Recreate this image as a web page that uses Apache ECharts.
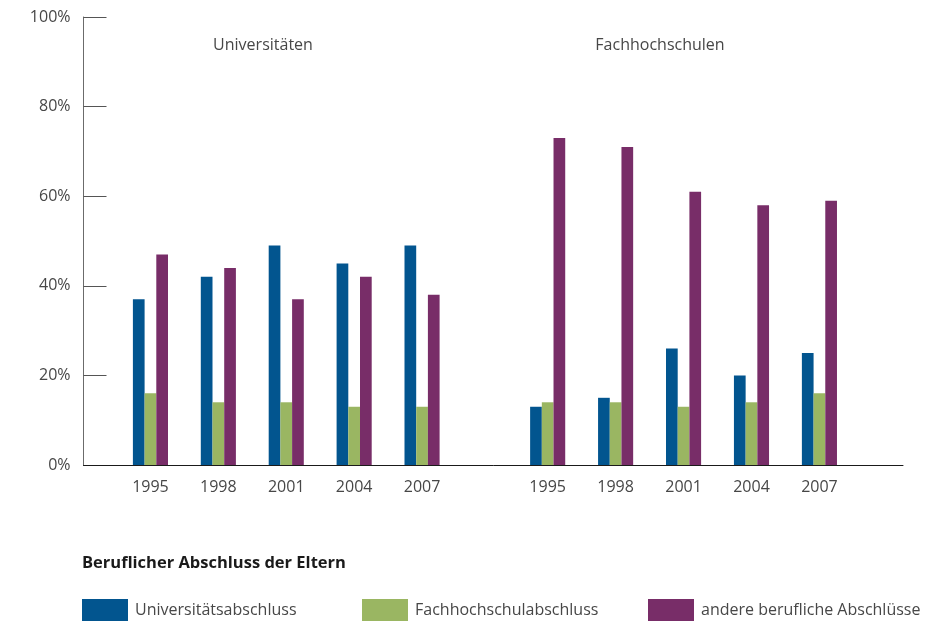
<!DOCTYPE html>
<html>
<head>
<meta charset="utf-8">
<script src="https://cdn.jsdelivr.net/npm/echarts@6/dist/echarts.min.js"></script>
<style>
  html, body { margin: 0; padding: 0; background: #fff; }
  #chart { width: 935px; height: 624px; }
</style>
</head>
<body>
<div id="chart"></div>
<script>
// categories
const years = ['1995', '1998', '2001', '2004', '2007'];
const groupNames = ['Universitäten', 'Fachhochschulen'];
const seriesNames = ['Universitätsabschluss', 'Fachhochschulabschluss', 'andere berufliche Abschlüsse'];

// values in percent, Universitäten
const uniUniversitaet = [37, 42, 49, 45, 49];
const uniFachhochschule = [16, 14, 14, 13, 13];
const uniAndere = [47, 44, 37, 42, 38];

// values in percent, Fachhochschulen
const fhUniversitaet = [13, 15, 26, 20, 25];
const fhFachhochschule = [14, 14, 13, 14, 16];
const fhAndere = [73, 71, 61, 58, 59];

// y ticks
const yTicks = [0, 20, 40, 60, 80, 100];

const colors = ['#02558f', '#9ab662', '#782d68'];
const font = '"Open Sans", "Noto Sans", sans-serif';
const textColor = '#474747';

let chart = echarts.init(document.getElementById('chart'));

// one grid for the frame (y axis + baseline), one per group of bars
const gridTop = 17, gridBottom = 159;

function barSeries(name, data, idx, color) {
    return {
        name: name,
        type: 'bar',
        xAxisIndex: idx,
        yAxisIndex: idx,
        data: data,
        barWidth: 11.7,
        barGap: '0%',
        itemStyle: { color: color },
        emphasis: { disabled: true },
        animation: false
    };
}

function groupY(idx) {
    return { type: 'value', gridIndex: idx, min: yTicks[0], max: yTicks[yTicks.length - 1], show: false };
}

function groupX(idx) {
    return {
        type: 'category',
        gridIndex: idx,
        data: years,
        axisLine: { show: false },
        axisTick: { show: false },
        axisLabel: { fontFamily: font, fontSize: 16, color: textColor, margin: 14 }
    };
}

function legendAt(left, name) {
    return {
        left: left,
        top: 594,
        data: [name],
        icon: 'rect',
        itemWidth: 46,
        itemHeight: 22,
        selectedMode: false,
        textStyle: { fontFamily: font, fontSize: 16, color: textColor, padding: [0, 0, 0, 2] }
    };
}

const option = {
    backgroundColor: '#fff',
    animation: false,
    grid: [
        { left: 83.5, width: 819.5, top: gridTop, bottom: gridBottom },
        { left: 116.5, width: 339.5, top: gridTop, bottom: gridBottom },
        { left: 513.7, width: 339.7, top: gridTop, bottom: gridBottom }
    ],
    xAxis: [
        {
            type: 'value', gridIndex: 0, min: 0, max: 1, z: 5,
            axisLine: { show: true, lineStyle: { color: '#1a1a1a', width: 1 } },
            axisTick: { show: false }, axisLabel: { show: false }, splitLine: { show: false }
        },
        groupX(1),
        groupX(2)
    ],
    yAxis: [
        {
            type: 'value', gridIndex: 0,
            min: yTicks[0], max: yTicks[yTicks.length - 1], interval: 20,
            axisLine: { show: true, lineStyle: { color: '#6b6b6b', width: 1 } },
            axisTick: { show: true, inside: true, length: 23, lineStyle: { color: '#555' } },
            axisLabel: { fontFamily: font, fontSize: 16, color: textColor, margin: 13, formatter: '{value}%' },
            splitLine: { show: false }
        },
        groupY(1),
        groupY(2)
    ],
    legend: [
        legendAt(77, seriesNames[0]),
        legendAt(357, seriesNames[1]),
        legendAt(643, seriesNames[2])
    ],
    graphic: [
        { type: 'text', x: 263, y: 45, style: { text: groupNames[0], font: '16px ' + font, fill: textColor, textAlign: 'center', textVerticalAlign: 'middle' } },
        { type: 'text', x: 660, y: 45, style: { text: groupNames[1], font: '16px ' + font, fill: textColor, textAlign: 'center', textVerticalAlign: 'middle' } },
        { type: 'text', x: 82, y: 563, style: { text: 'Beruflicher Abschluss der Eltern', font: '700 16.5px ' + font, fill: '#1a1a1a', textVerticalAlign: 'middle' } }
    ],
    series: [
        barSeries(seriesNames[0], uniUniversitaet, 1, colors[0]),
        barSeries(seriesNames[1], uniFachhochschule, 1, colors[1]),
        barSeries(seriesNames[2], uniAndere, 1, colors[2]),
        barSeries(seriesNames[0], fhUniversitaet, 2, colors[0]),
        barSeries(seriesNames[1], fhFachhochschule, 2, colors[1]),
        barSeries(seriesNames[2], fhAndere, 2, colors[2])
    ]
};

chart.setOption(option);
</script>
</body>
</html>
